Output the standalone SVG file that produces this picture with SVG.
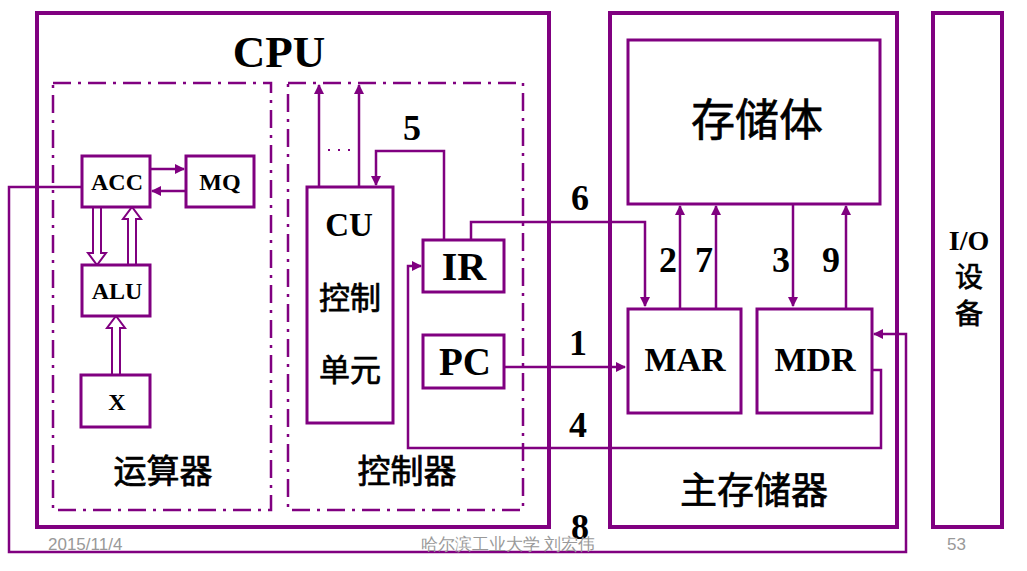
<svg xmlns="http://www.w3.org/2000/svg" width="1027" height="571" viewBox="0 0 1027 571">
<style>
.big{fill:none;stroke:#800080;stroke-width:4}
.box{fill:#fff;stroke:#800080;stroke-width:3}
.dd{fill:none;stroke:#800080;stroke-width:2.5;stroke-dasharray:18,7,3,7}
.ln{fill:none;stroke:#800080;stroke-width:2.5}
.hol{fill:#fff;stroke:#800080;stroke-width:2}
.lat{font-family:"Liberation Serif",serif;font-weight:bold;fill:#000;text-anchor:middle}
.cjk{font-family:"Noto Sans CJK SC","Noto Sans",sans-serif;fill:#000;stroke:#000;stroke-width:0.7;text-anchor:middle}
.foot{font-family:"Liberation Sans Narrow","Liberation Sans",Arial,sans-serif;font-size:17px;fill:#999}
</style>
<defs>
<marker id="ah" viewBox="0 0 10 10" refX="9" refY="5" markerWidth="4" markerHeight="4" orient="auto" markerUnits="strokeWidth">
<path d="M0,0 L10,5 L0,10 z" fill="#800080"/>
</marker>
</defs>
<rect width="1027" height="571" fill="#fff"/>
<g id="cpu">
<rect class="big" x="37" y="13" width="512" height="514"/>
<text class="lat" x="279" y="67" font-size="45">CPU</text>
</g>
<g id="alu-unit">
<rect class="dd" x="53" y="83" width="218" height="427"/>
<text class="cjk" x="163" y="483" font-size="33">运算器</text>
</g>
<g id="ctrl-unit">
<rect class="dd" x="288" y="83" width="235" height="427"/>
<text class="cjk" x="407" y="483" font-size="33">控制器</text>
</g>
<g id="mem">
<rect class="big" x="610" y="13" width="287" height="514"/>
<text class="cjk" x="754" y="504" font-size="37">主存储器</text>
</g>
<g id="io">
<rect class="big" x="933" y="13" width="69" height="514"/>
<text class="lat" x="969" y="250" font-size="28">I/O</text>
<text class="cjk" x="969" y="287" font-size="28">设</text>
<text class="cjk" x="969" y="324" font-size="28">备</text>
</g>
<g id="connectors">
<line class="ln" x1="150" y1="169" x2="184" y2="169" marker-end="url(#ah)"/>
<line class="ln" x1="186" y1="191" x2="152" y2="191" marker-end="url(#ah)"/>
<polygon class="hol" points="93,207 101,207 101,253 106,253 97,265 88,253 93,253"/>
<polygon class="hol" points="128,265 136,265 136,219 141,219 132,207 123,219 128,219"/>
<polygon class="hol" points="112,375 120,375 120,328 125,328 116,316 107,328 112,328"/>
<line class="ln" x1="319" y1="187" x2="319" y2="85" marker-end="url(#ah)"/>
<line class="ln" x1="359" y1="187" x2="359" y2="85" marker-end="url(#ah)"/>
<line x1="328" y1="150" x2="354" y2="150" stroke="#800080" stroke-width="2" stroke-dasharray="2,8"/>
<polyline class="ln" points="444,240 444,151 376,151 376,185" marker-end="url(#ah)"/>
<polyline class="ln" points="471,240 471,222 645,222 645,306" marker-end="url(#ah)"/>
<line class="ln" x1="504" y1="367" x2="625" y2="367" marker-end="url(#ah)"/>
<polyline class="ln" points="872,370 881,370 881,448 408,448 408,266 421,266" marker-end="url(#ah)"/>
<polyline class="ln" points="82,187 9,187 9,552 906,552 906,334 874,334" marker-end="url(#ah)"/>
<line class="ln" x1="680" y1="308" x2="680" y2="206" marker-end="url(#ah)"/>
<line class="ln" x1="716" y1="308" x2="716" y2="206" marker-end="url(#ah)"/>
<line class="ln" x1="793" y1="204" x2="793" y2="306" marker-end="url(#ah)"/>
<line class="ln" x1="846" y1="308" x2="846" y2="206" marker-end="url(#ah)"/>
<text class="lat" x="412" y="140" font-size="36">5</text>
<text class="lat" x="580" y="210" font-size="36">6</text>
<text class="lat" x="578" y="355" font-size="36">1</text>
<text class="lat" x="578" y="437" font-size="36">4</text>
<text class="lat" x="580" y="539" font-size="36">8</text>
<text class="lat" x="668" y="272" font-size="36">2</text>
<text class="lat" x="704" y="272" font-size="36">7</text>
<text class="lat" x="781" y="272" font-size="36">3</text>
<text class="lat" x="831" y="272" font-size="36">9</text>
</g>
<g id="acc"><rect class="box" x="82" y="156" width="68" height="51"/><text class="lat" x="117" y="190" font-size="24">ACC</text></g>
<g id="mq"><rect class="box" x="186" y="156" width="68" height="51"/><text class="lat" x="220" y="190" font-size="24">MQ</text></g>
<g id="alu"><rect class="box" x="82" y="265" width="68" height="51"/><text class="lat" x="117" y="299" font-size="24">ALU</text></g>
<g id="x"><rect class="box" x="81" y="375" width="69" height="52"/><text class="lat" x="117" y="410" font-size="24">X</text></g>
<g id="cu"><rect class="box" x="307" y="187" width="86" height="236"/>
<text class="lat" x="349" y="236" font-size="33">CU</text>
<text class="cjk" x="350" y="309" font-size="31">控制</text>
<text class="cjk" x="350" y="381" font-size="31">单元</text></g>
<g id="ir"><rect class="box" x="423" y="240" width="81" height="52"/><text class="lat" x="464" y="280" font-size="40">IR</text></g>
<g id="pc"><rect class="box" x="423" y="335" width="81" height="53"/><text class="lat" x="465" y="375" font-size="39">PC</text></g>
<g id="storage"><rect class="box" x="628" y="40" width="252" height="164"/><text class="cjk" x="757" y="136" font-size="44">存储体</text></g>
<g id="mar"><rect class="box" x="628" y="309" width="113" height="104"/><text class="lat" x="685" y="371" font-size="34">MAR</text></g>
<g id="mdr"><rect class="box" x="757" y="309" width="115" height="104"/><text class="lat" x="815" y="371" font-size="34">MDR</text></g>
<g id="footer">
<text class="foot" x="48" y="550">2015/11/4</text>
<text class="foot" x="508" y="550" text-anchor="middle" font-family="Noto Sans CJK SC" font-size="16">哈尔滨工业大学  刘宏伟</text>
<text class="foot" x="947" y="550">53</text>
</g>
</svg>
